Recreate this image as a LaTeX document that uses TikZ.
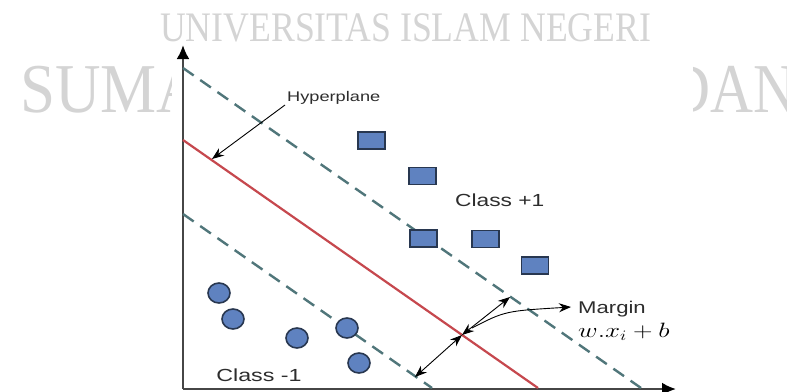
\documentclass[tikz,border=0pt]{standalone}
\usepackage{fontspec}
\setmainfont{Liberation Serif}
\setsansfont{Liberation Sans}
\usetikzlibrary{arrows.meta,shapes.geometric}
\definecolor{axcol}{RGB}{70,70,70}
\definecolor{ptfill}{RGB}{95,130,192}
\definecolor{ptborder}{RGB}{40,55,80}
\definecolor{dashcol}{RGB}{80,118,122}
\definecolor{hypred}{RGB}{198,72,78}
\definecolor{labcol}{RGB}{45,45,45}
\definecolor{wmcol}{RGB}{212,212,212}
\begin{document}
\begin{tikzpicture}[x=1pt,y=-1pt,
  ax/.style={draw=axcol, line width=2.6pt},
  sq/.style={draw=ptborder, fill=ptfill, line width=1.6pt, minimum width=27pt, minimum height=17pt, inner sep=0pt},
  cir/.style={ellipse, draw=ptborder, fill=ptfill, line width=1.6pt, minimum width=22pt, minimum height=20pt, inner sep=0pt},
  marg/.style={draw=dashcol, line width=2.4pt, dash pattern=on 13pt off 8pt},
  hyp/.style={draw=hypred, line width=2.2pt},
  pointer/.style={draw=black, line width=0.9pt},
  lab/.style={font=\sffamily, text=labcol, inner sep=0pt},
  wm/.style={text=wmcol, inner sep=0pt},
  tipb/.style={}
]
\useasboundingbox (0,0) rectangle (787,391);
% watermark
\node[wm, anchor=base west, font=\fontsize{42}{42}\selectfont] (wmtop) at (160,41) {\scalebox{0.85}[1]{UNIVERSITAS ISLAM NEGERI}};
\node[wm, anchor=base west, font=\fontsize{70}{70}\selectfont] (wmleft) at (20,112) {\scalebox{0.9}[1]{SUMA}};
\node[wm, anchor=base east, font=\fontsize{70}{70}\selectfont] (wmright) at (797,112) {\scalebox{0.85}[1]{DAN}};
\fill[white] (172,44) rectangle (693,391);
% axes
\coordinate (O) at (183,389);
\coordinate (ytop) at (183,45);
\coordinate (xend) at (676,389);
\draw[ax, -{Latex[length=14pt,width=13pt,fill=black,color=black]}] (O) -- (ytop);
\draw[ax, -{Latex[length=14pt,width=13pt,fill=black,color=black]}] (O) -- (xend);
% lines
\coordinate (u1) at (183,68);  \coordinate (u2) at (641,388);
\coordinate (r1) at (183,140); \coordinate (r2) at (538,388);
\coordinate (l1) at (183,214); \coordinate (l2) at (432,388);
\draw[marg] (u1) -- (u2);
\draw[hyp] (r1) -- (r2);
\draw[marg] (l1) -- (l2);
% class +1
\node[sq] (s1) at (371.5,140.5) {};
\node[sq] (s2) at (422.5,176) {};
\node[sq] (s3) at (423.5,238.5) {};
\node[sq] (s4) at (485.5,239) {};
\node[sq] (s5) at (535,265.5) {};
% class -1
\node[cir] (c1) at (219,293) {};
\node[cir] (c2) at (233,319) {};
\node[cir] (c3) at (297,338) {};
\node[cir] (c4) at (347,328) {};
\node[cir] (c5) at (359,363) {};
% labels
\node[lab, anchor=west, font=\sffamily\fontsize{14}{14}\selectfont] (hyplab) at (287,97.5) {\scalebox{1.3}[1]{Hyperplane}};
\node[lab, anchor=west, font=\sffamily\fontsize{17.5}{17.5}\selectfont] (cp) at (455,200) {\scalebox{1.3}[1]{Class +1}};
\node[lab, anchor=center, font=\sffamily\fontsize{17.5}{17.5}\selectfont] (cm) at (259,375) {\scalebox{1.33}[1]{Class -1}};
\node[lab, anchor=west, font=\sffamily\fontsize{17}{17}\selectfont] (mlab) at (578,309.5) {\scalebox{1.3}[1]{Margin}};
\node[lab, anchor=west, text=black, font=\fontsize{22}{22}\selectfont] (wx) at (578,331.5) {\scalebox{1.3}[1]{$w.x_i+b$}};
% hyperplane pointer
\coordinate (hypstart) at (285,105);
\coordinate (hyptip) at (212,159);
\draw[pointer, -{Stealth[length=12pt,width=9pt]}] (hypstart) -- (hyptip);
% margin arrows
\coordinate (mlow) at (415,377);
\coordinate (mmid) at (462,335);
\coordinate (mup) at (510,297);
\draw[pointer, {Stealth[length=12pt,width=9pt]}-{Stealth[length=12pt,width=9pt]}] (mlow) -- (mmid);
\draw[pointer, {Stealth[length=12pt,width=9pt]}-{Stealth[length=12pt,width=9pt]}] (mmid) -- (mup);
\coordinate (cstart) at (472,328);
\coordinate (cend) at (571,307);
\draw[pointer, -{Stealth[length=12pt,width=9pt]}] (cstart) .. controls (505,311) .. (cend);
\end{tikzpicture}
\end{document}
